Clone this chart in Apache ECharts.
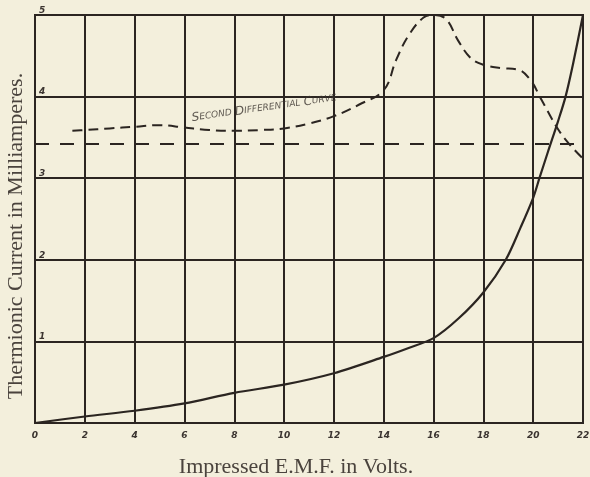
<!DOCTYPE html>
<html>
<head>
<meta charset="utf-8">
<script src="https://cdn.jsdelivr.net/npm/echarts@6/dist/echarts.min.js"></script>
<style>
html,body{margin:0;padding:0;background:#f3efdc;}
#chart{width:590px;height:477px;}
</style>
</head>
<body>
<div id="chart"></div>
<script>
// Thermionic current curve (milliamperes) vs impressed EMF (volts)
var currentVolts = [0, 2, 4, 6, 8, 10, 12, 14, 15, 16, 17, 18, 18.9, 19.5, 20, 20.25, 20.6, 21, 21.3, 21.6, 22];
var currentMA    = [0, 0.08, 0.15, 0.24, 0.37, 0.47, 0.61, 0.81, 0.92, 1.04, 1.28, 1.6, 2.0, 2.4, 2.76, 3.0, 3.33, 3.7, 4.0, 4.4, 5.0];

// Second differential curve
var diffVolts = [1.5, 2, 3, 4, 5, 6, 7, 8, 9, 10, 11, 12, 13, 14, 14.5, 15, 15.6, 16, 16.5, 17, 17.5, 18, 18.7, 19.4, 19.9, 20.3, 21, 21.5, 22];
var diffVals  = [3.58, 3.59, 3.61, 3.63, 3.65, 3.62, 3.59, 3.58, 3.59, 3.61, 3.67, 3.76, 3.9, 4.08, 4.45, 4.75, 4.97, 5.0, 4.95, 4.68, 4.47, 4.39, 4.35, 4.33, 4.2, 3.98, 3.6, 3.4, 3.24];

// Horizontal dashed reference line
var refVolts = [0, 22];
var refVals  = [3.42, 3.42];

// Annotation
var noteX = 9.2, noteY = 3.86;

var xTicks = [0, 2, 4, 6, 8, 10, 12, 14, 16, 18, 20, 22];
var yTicks = [0, 1, 2, 3, 4, 5];

function pairs(xs, ys){ return xs.map(function(x,i){ return [x, ys[i]]; }); }

var ink = '#2b2521';
var chart = echarts.init(document.getElementById('chart'));
chart.setOption({
  backgroundColor: '#f3efdc',
  animation: false,
  grid: {left: 35, right: 7, top: 15, bottom: 54, containLabel: false, outerBoundsMode: 'none',
         show: true, borderColor: ink, borderWidth: 2, backgroundColor: 'transparent'},
  xAxis: {
    type: 'value', min: xTicks[0], max: xTicks[xTicks.length-1], interval: 2,
    name: 'Impressed E.M.F. in Volts.', nameLocation: 'middle', nameGap: 33,
    nameTextStyle: {fontFamily: 'Liberation Serif', fontSize: 22, color: '#4a433d', padding: [0, 26, 0, 0]},
    axisLine: {show: true, lineStyle: {color: ink, width: 2}},
    axisTick: {show: false},
    axisLabel: {margin: 8, fontFamily: 'DejaVu Sans', fontStyle: 'italic', fontWeight: 'bold', fontSize: 9, color: '#3b3430'},
    splitLine: {show: true, lineStyle: {color: ink, width: 2}}
  },
  yAxis: {
    type: 'value', min: yTicks[0], max: yTicks[yTicks.length-1], interval: 1,
    name: 'Thermionic Current in Milliamperes.', nameLocation: 'middle', nameGap: 2, nameRotate: 90,
    nameTextStyle: {fontFamily: 'Liberation Serif', fontSize: 22, color: '#4a433d', padding: [0, 34, 0, 0]},
    axisLine: {show: true, lineStyle: {color: ink, width: 2}},
    axisTick: {show: false},
    axisLabel: {inside: true, showMinLabel: false, align: 'left', verticalAlign: 'bottom', margin: 4,
      fontFamily: 'DejaVu Sans', fontStyle: 'italic', fontWeight: 'bold', fontSize: 9, color: '#3b3430'},
    splitLine: {show: true, lineStyle: {color: ink, width: 2}}
  },
  series: [
    {type: 'line', data: pairs(currentVolts, currentMA), smooth: 0.3, symbol: 'none',
     lineStyle: {color: ink, width: 2.2}},
    {type: 'line', data: pairs(diffVolts, diffVals), smooth: 0.4, symbol: 'none',
     lineStyle: {color: ink, width: 2, type: [10, 6]}},
    {type: 'line', data: pairs(refVolts, refVals), symbol: 'none',
     lineStyle: {color: ink, width: 2, type: [14, 11]}},
    {type: 'scatter', data: [[noteX, noteY]], symbolSize: 1, itemStyle: {color: 'transparent'},
     label: {show: true, position: 'inside', rotate: 8,
       formatter: '{b|S}{s|ECOND} {b|D}{s|IFFERENTIAL} {b|C}{s|URVE}',
       rich: {
         b: {fontFamily: 'DejaVu Sans', fontStyle: 'italic', fontSize: 12, color: '#3b3430'},
         s: {fontFamily: 'DejaVu Sans', fontStyle: 'italic', fontSize: 9, color: '#3b3430'}
       }}}
  ]
});
</script>
</body>
</html>
